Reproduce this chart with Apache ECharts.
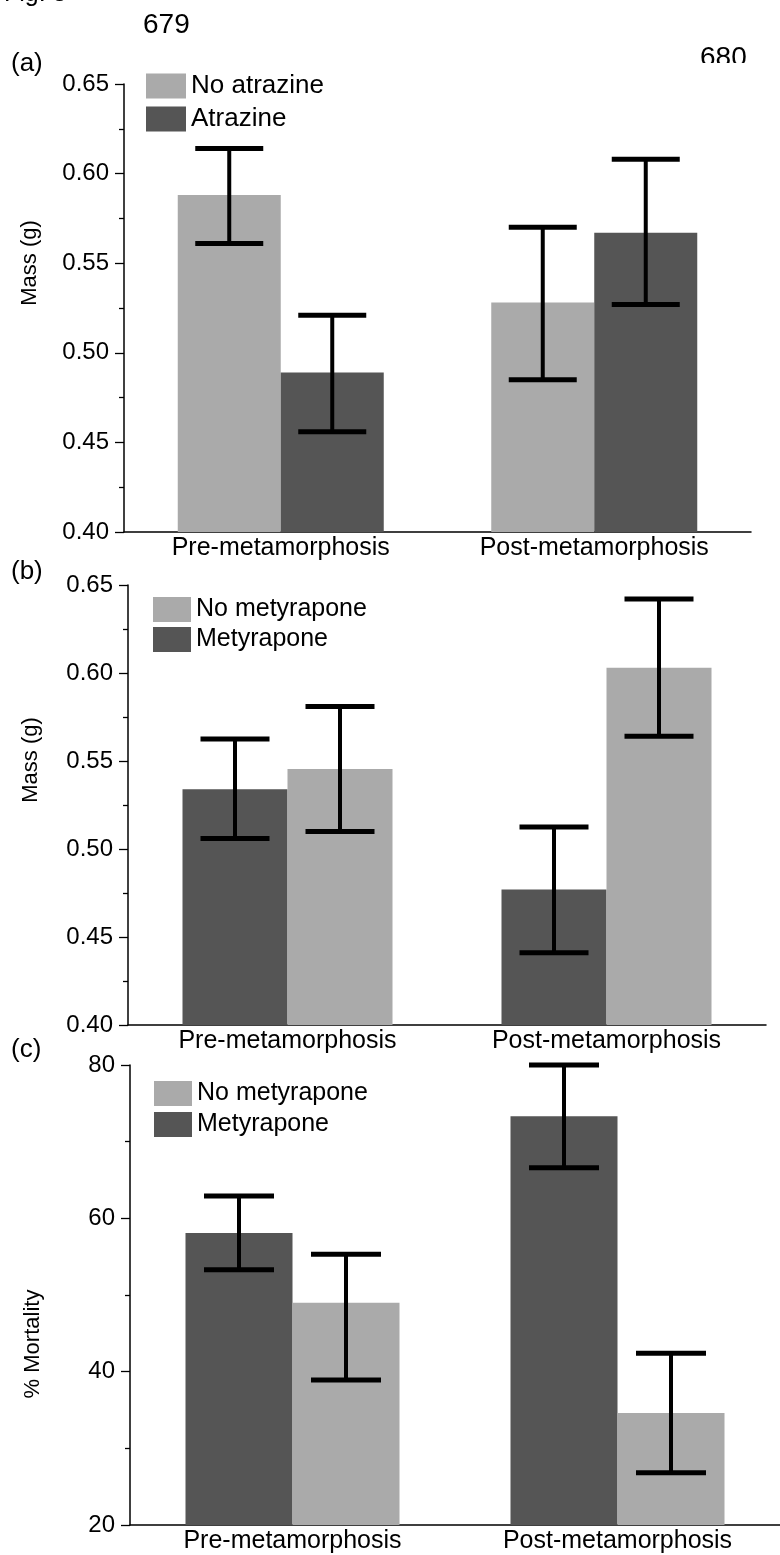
<!DOCTYPE html>
<html>
<head>
<meta charset="utf-8">
<script src="https://cdn.jsdelivr.net/npm/echarts@6/dist/echarts.min.js"></script>
<style>
html,body{margin:0;padding:0;background:#fff;}
#chart{width:780px;height:1555px;}
</style>
</head>
<body>
<div id="chart"></div>
<script>
// ---------- data ----------
const categories = ['Pre-metamorphosis', 'Post-metamorphosis'];

// Panel (a)
const noAtrazine   = [0.588, 0.528];
const noAtrazineLo = [0.561, 0.485];
const noAtrazineHi = [0.614, 0.570];
const atrazine     = [0.489, 0.567];
const atrazineLo   = [0.456, 0.527];
const atrazineHi   = [0.521, 0.608];

// Panel (b)
const metB     = [0.534, 0.477];
const metBLo   = [0.506, 0.441];
const metBHi   = [0.5625, 0.5125];
const noMetB   = [0.5455, 0.603];
const noMetBLo = [0.510, 0.564];
const noMetBHi = [0.581, 0.642];

// Panel (c)
const metC     = [58.1, 73.3];
const metCLo   = [53.3, 66.6];
const metCHi   = [62.9, 80.0];
const noMetC   = [49.0, 34.6];
const noMetCLo = [38.9, 26.8];
const noMetCHi = [55.3, 42.4];

const massTicks = [0.40, 0.45, 0.50, 0.55, 0.60, 0.65];
const mortTicks = [20, 40, 60, 80];

// ---------- styles ----------
const LIGHT = '#aaaaaa';
const DARK = '#555555';
const INK = '#000';
const FONT = '"Liberation Sans", Arial, Helvetica, sans-serif';

const chart = echarts.init(document.getElementById('chart'), null, {renderer: 'canvas'});

function errSeries(name, lo, hi, offsetIdx, barW, capW, axisIdx) {
  return {
    type: 'custom',
    name: name + ' err',
    xAxisIndex: axisIdx,
    yAxisIndex: axisIdx,
    z: 10,
    silent: true,
    encode: {x: 0, y: [1, 2]},
    data: lo.map((l, i) => [i, l, hi[i]]),
    renderItem: function (params, api) {
      const p1 = api.coord([api.value(0), api.value(1)]);
      const p2 = api.coord([api.value(0), api.value(2)]);
      const x = p1[0] + (offsetIdx - 0.5) * barW;
      const half = capW / 2;
      const st = {stroke: '#000', lineWidth: 4};
      const cs = {stroke: '#000', lineWidth: 5};
      return {
        type: 'group',
        children: [
          {type: 'line', shape: {x1: x, y1: p1[1], x2: x, y2: p2[1]}, style: st},
          {type: 'line', shape: {x1: x - half, y1: p1[1], x2: x + half, y2: p1[1]}, style: cs},
          {type: 'line', shape: {x1: x - half, y1: p2[1], x2: x + half, y2: p2[1]}, style: cs}
        ]
      };
    }
  };
}

function barSeries(name, data, color, barW, axisIdx) {
  return {
    type: 'bar',
    name: name,
    xAxisIndex: axisIdx,
    yAxisIndex: axisIdx,
    data: data,
    barWidth: barW,
    barGap: '0%',
    itemStyle: {color: color},
    emphasis: {disabled: true}
  };
}

function xAxis(gridIdx) {
  return {
    type: 'category',
    gridIndex: gridIdx,
    data: categories,
    axisLine: {lineStyle: {color: INK, width: 1.5}},
    axisTick: {show: false},
    axisLabel: {color: INK, fontSize: 25, fontFamily: FONT, margin: 4}
  };
}

function yAxis(gridIdx, min, max, interval, fmt) {
  return {
    type: 'value',
    gridIndex: gridIdx,
    min: min, max: max, interval: interval,
    splitLine: {show: false},
    axisLine: {show: true, lineStyle: {color: INK, width: 1.5}},
    axisTick: {show: true, inside: false, length: 9, lineStyle: {color: INK, width: 1.3}},
    minorTick: {show: true, splitNumber: 2, length: 5, lineStyle: {color: INK, width: 1.3}},
    axisLabel: {color: INK, fontSize: 24, fontFamily: FONT, margin: 15, formatter: fmt}
  };
}

function legend(data, left, top, w, h, gap, fs) {
  return {
    data: data,
    orient: 'vertical',
    left: left, top: top,
    padding: 0,
    itemWidth: w, itemHeight: h, itemGap: gap,
    icon: 'rect',
    selectedMode: false,
    textStyle: {color: INK, fontSize: fs, fontFamily: FONT}
  };
}

function txt(text, x, y, size, extra) {
  return Object.assign({
    type: 'text', x: x, y: y, silent: true,
    style: {text: text, fill: INK, font: size + 'px ' + FONT, textAlign: 'left', textVerticalAlign: 'middle'}
  }, extra || {});
}

function vtxt(text, x, y, size) {
  return {
    type: 'text', x: x, y: y, rotation: Math.PI / 2, silent: true,
    style: {text: text, fill: INK, font: size + 'px ' + FONT, textAlign: 'center', textVerticalAlign: 'middle'}
  };
}

const massFmt = v => v.toFixed(2);
const mortFmt = v => String(v);

const option = {
  backgroundColor: '#fff',
  animation: false,
  grid: [
    {left: 124, top: 84, width: 627, height: 448},
    {left: 128, top: 585, width: 638, height: 440},
    {left: 130, top: 1065, width: 654, height: 460}
  ],
  xAxis: [xAxis(0), xAxis(1), xAxis(2)],
  yAxis: [
    yAxis(0, 0.40, 0.65, 0.05, massFmt),
    yAxis(1, 0.40, 0.65, 0.05, massFmt),
    yAxis(2, 20, 80, 20, mortFmt)
  ],
  legend: [
    legend(['No atrazine', 'Atrazine'], 146, 73, 40, 25, 7, 26),
    legend(['No metyrapone', 'Metyrapone'], 153, 597, 38, 25, 5, 25),
    legend(['No metyrapone', 'Metyrapone'], 154, 1081, 38, 25, 6, 25)
  ],
  series: [
    barSeries('No atrazine', noAtrazine, LIGHT, 103, 0),
    barSeries('Atrazine', atrazine, DARK, 103, 0),
    errSeries('No atrazine', noAtrazineLo, noAtrazineHi, 0, 103, 68, 0),
    errSeries('Atrazine', atrazineLo, atrazineHi, 1, 103, 68, 0),

    barSeries('Metyrapone', metB, DARK, 105, 1),
    barSeries('No metyrapone', noMetB, LIGHT, 105, 1),
    errSeries('Metyrapone', metBLo, metBHi, 0, 105, 69, 1),
    errSeries('No metyrapone', noMetBLo, noMetBHi, 1, 105, 69, 1),

    barSeries('Metyrapone', metC, DARK, 107, 2),
    barSeries('No metyrapone', noMetC, LIGHT, 107, 2),
    errSeries('Metyrapone', metCLo, metCHi, 0, 107, 70, 2),
    errSeries('No metyrapone', noMetCLo, noMetCHi, 1, 107, 70, 2)
  ],
  graphic: [
    txt('Fig. 3', 4, -6, 25),
    txt('679', 143, 25, 28),
    txt('680', 700, 58, 28),
    {type: 'rect', shape: {x: 690, y: 63, width: 80, height: 16}, style: {fill: '#fff'}, silent: true, z: 100},
    txt('(a)', 11, 64, 26),
    txt('(b)', 11, 572, 26),
    txt('(c)', 11, 1050, 26),
    vtxt('Mass (g)', 30, 263, 22),
    vtxt('Mass (g)', 31, 760, 22),
    vtxt('% Mortality', 33, 1344, 22)
  ]
};

chart.setOption(option);
</script>
</body>
</html>
